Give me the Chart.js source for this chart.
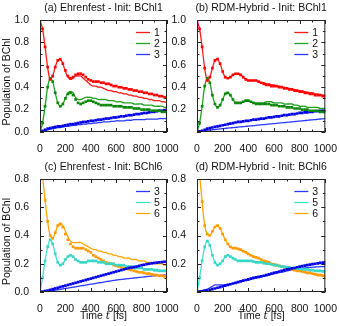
<!DOCTYPE html>
<html>
<head>
<meta charset="utf-8">
<script src="https://cdn.jsdelivr.net/npm/chart.js@4/dist/chart.umd.min.js"></script>
<style>
  html, body { margin:0; padding:0; background:#fff; }
  #wrap { position:relative; width:340px; height:326px; overflow:hidden; }
  #wrap canvas { position:absolute; }
</style>
</head>
<body>
<div id="wrap">
  <canvas id="pa" width="190" height="160" style="left:0;top:0"></canvas>
  <canvas id="pb" width="170" height="160" style="left:170px;top:0"></canvas>
  <canvas id="pc" width="190" height="166" style="left:0;top:160px"></canvas>
  <canvas id="pd" width="170" height="166" style="left:170px;top:160px"></canvas>
</div>
<script>
// time grid, fs
const T = Array.from({length:51}, (_, i) => i * 20);
const xTicks = [0, 200, 400, 600, 800, 1000];

// (a) Ehrenfest - Init: BChl1  (line = solid, dots = reference)
const aRedLine  = [1.00,0.92,0.76,0.58,0.47,0.50,0.58,0.64,0.65,0.61,0.54,0.49,0.47,0.48,0.50,0.50,0.50,0.48,0.46,0.44,0.42,0.41,0.41,0.40,0.40,0.39,0.38,0.37,0.37,0.36,0.36,0.35,0.35,0.34,0.34,0.33,0.33,0.32,0.32,0.31,0.31,0.30,0.30,0.29,0.29,0.28,0.28,0.28,0.27,0.27,0.26];
const aRedDots  = [1.00,0.92,0.76,0.58,0.47,0.50,0.58,0.64,0.65,0.61,0.55,0.50,0.48,0.49,0.51,0.52,0.52,0.51,0.49,0.47,0.46,0.45,0.45,0.45,0.44,0.44,0.43,0.43,0.42,0.41,0.41,0.40,0.40,0.39,0.39,0.38,0.38,0.37,0.37,0.36,0.36,0.35,0.35,0.34,0.34,0.33,0.33,0.32,0.32,0.31,0.31];
const aGrnLine  = [0.00,0.08,0.23,0.40,0.48,0.45,0.35,0.26,0.23,0.25,0.30,0.35,0.36,0.35,0.31,0.29,0.29,0.30,0.31,0.31,0.31,0.30,0.30,0.29,0.29,0.29,0.29,0.28,0.28,0.28,0.27,0.27,0.27,0.26,0.26,0.26,0.26,0.25,0.25,0.25,0.25,0.24,0.24,0.24,0.24,0.23,0.23,0.23,0.23,0.22,0.22];
const aGrnDots  = [0.00,0.08,0.23,0.40,0.48,0.45,0.35,0.26,0.23,0.25,0.30,0.34,0.35,0.33,0.29,0.26,0.25,0.26,0.27,0.28,0.28,0.27,0.26,0.25,0.24,0.24,0.24,0.24,0.24,0.23,0.23,0.23,0.23,0.22,0.22,0.22,0.22,0.21,0.21,0.21,0.20,0.20,0.20,0.20,0.19,0.19,0.19,0.19,0.18,0.18,0.18];
const aBluLine  = [0.000,0.005,0.010,0.020,0.025,0.030,0.035,0.040,0.040,0.045,0.050,0.050,0.055,0.060,0.060,0.065,0.065,0.070,0.070,0.075,0.075,0.080,0.080,0.085,0.085,0.090,0.090,0.090,0.095,0.095,0.100,0.100,0.100,0.100,0.105,0.105,0.105,0.110,0.110,0.110,0.110,0.110,0.115,0.115,0.115,0.115,0.115,0.120,0.120,0.120,0.120];
const aBluDots  = [0.000,0.010,0.020,0.030,0.035,0.040,0.045,0.050,0.050,0.055,0.060,0.065,0.070,0.070,0.075,0.080,0.085,0.090,0.090,0.095,0.100,0.100,0.105,0.110,0.110,0.115,0.120,0.120,0.125,0.130,0.130,0.135,0.140,0.140,0.145,0.150,0.150,0.155,0.160,0.160,0.165,0.170,0.170,0.175,0.180,0.180,0.185,0.190,0.190,0.195,0.200];

// (b) RDM-Hybrid - Init: BChl1
const bRedLine  = [1.00,0.92,0.76,0.57,0.46,0.49,0.57,0.64,0.65,0.61,0.54,0.49,0.48,0.49,0.51,0.52,0.52,0.51,0.49,0.47,0.46,0.46,0.46,0.46,0.45,0.44,0.44,0.43,0.43,0.42,0.42,0.41,0.41,0.40,0.40,0.39,0.39,0.38,0.38,0.37,0.37,0.36,0.36,0.35,0.35,0.35,0.34,0.34,0.33,0.33,0.33];
const bRedDots  = [1.00,0.92,0.76,0.57,0.46,0.49,0.57,0.64,0.65,0.61,0.54,0.49,0.48,0.49,0.51,0.52,0.52,0.51,0.49,0.47,0.46,0.46,0.46,0.46,0.45,0.44,0.43,0.42,0.42,0.41,0.41,0.41,0.40,0.40,0.39,0.39,0.38,0.38,0.37,0.37,0.36,0.36,0.35,0.35,0.34,0.34,0.33,0.33,0.33,0.32,0.32];
const bGrnLine  = [0.00,0.08,0.23,0.41,0.48,0.44,0.33,0.25,0.22,0.24,0.29,0.34,0.35,0.33,0.29,0.26,0.26,0.26,0.27,0.28,0.28,0.27,0.26,0.26,0.26,0.26,0.26,0.27,0.27,0.27,0.26,0.26,0.26,0.26,0.25,0.25,0.25,0.25,0.24,0.24,0.23,0.23,0.23,0.22,0.22,0.22,0.22,0.22,0.21,0.21,0.21];
const bGrnDots  = [0.00,0.08,0.23,0.41,0.48,0.44,0.33,0.25,0.22,0.24,0.29,0.34,0.35,0.33,0.29,0.26,0.26,0.26,0.27,0.28,0.28,0.27,0.26,0.25,0.25,0.25,0.25,0.25,0.25,0.24,0.24,0.24,0.23,0.23,0.23,0.22,0.22,0.22,0.21,0.21,0.21,0.20,0.20,0.20,0.19,0.19,0.19,0.19,0.18,0.18,0.18];
const bBluLine  = [0.000,0.003,0.008,0.012,0.015,0.018,0.020,0.022,0.025,0.027,0.030,0.032,0.035,0.037,0.039,0.041,0.044,0.046,0.048,0.050,0.053,0.055,0.057,0.059,0.062,0.064,0.066,0.068,0.071,0.073,0.075,0.077,0.080,0.082,0.084,0.086,0.089,0.091,0.093,0.095,0.098,0.100,0.102,0.104,0.107,0.109,0.111,0.113,0.116,0.118,0.120];
const bBluDots  = [0.000,0.005,0.010,0.020,0.030,0.035,0.040,0.045,0.050,0.055,0.060,0.065,0.070,0.075,0.080,0.085,0.090,0.090,0.095,0.100,0.100,0.105,0.110,0.110,0.115,0.120,0.120,0.125,0.130,0.130,0.135,0.140,0.140,0.145,0.150,0.150,0.155,0.160,0.160,0.165,0.170,0.170,0.175,0.175,0.180,0.180,0.185,0.185,0.190,0.190,0.190];

// (c) Ehrenfest - Init: BChl6
const cBluLine  = [0.000,0.002,0.004,0.006,0.008,0.010,0.013,0.016,0.019,0.022,0.025,0.028,0.031,0.034,0.037,0.040,0.043,0.046,0.049,0.052,0.055,0.058,0.061,0.064,0.067,0.070,0.073,0.076,0.079,0.082,0.085,0.087,0.089,0.091,0.093,0.095,0.097,0.099,0.101,0.103,0.105,0.107,0.109,0.111,0.113,0.115,0.116,0.117,0.118,0.119,0.120];
const cBluDots  = [0.000,0.003,0.007,0.010,0.015,0.020,0.025,0.030,0.035,0.040,0.045,0.050,0.055,0.060,0.065,0.070,0.075,0.080,0.085,0.090,0.095,0.100,0.105,0.110,0.115,0.120,0.125,0.130,0.135,0.140,0.145,0.150,0.155,0.160,0.165,0.170,0.173,0.177,0.180,0.185,0.190,0.193,0.197,0.200,0.203,0.206,0.208,0.210,0.212,0.214,0.215];
const cCynLine  = [0.00,0.10,0.22,0.32,0.37,0.34,0.27,0.21,0.19,0.20,0.23,0.25,0.26,0.25,0.23,0.22,0.21,0.21,0.21,0.22,0.22,0.22,0.22,0.21,0.21,0.21,0.20,0.20,0.20,0.20,0.19,0.19,0.19,0.19,0.18,0.18,0.18,0.17,0.17,0.17,0.17,0.16,0.16,0.16,0.16,0.15,0.15,0.15,0.15,0.15,0.15];
const cCynDots  = [0.00,0.10,0.22,0.32,0.37,0.34,0.27,0.21,0.19,0.20,0.23,0.25,0.26,0.25,0.23,0.22,0.21,0.21,0.21,0.22,0.22,0.22,0.22,0.21,0.21,0.21,0.20,0.20,0.20,0.20,0.19,0.19,0.19,0.19,0.18,0.18,0.18,0.17,0.17,0.17,0.17,0.16,0.16,0.16,0.16,0.155,0.155,0.15,0.15,0.15,0.15];
const cOrgLine  = [1.00,0.82,0.65,0.50,0.40,0.38,0.42,0.47,0.49,0.47,0.43,0.39,0.36,0.35,0.35,0.35,0.35,0.34,0.33,0.32,0.31,0.30,0.30,0.29,0.29,0.28,0.28,0.27,0.27,0.26,0.26,0.25,0.25,0.24,0.24,0.24,0.23,0.23,0.23,0.22,0.22,0.22,0.21,0.21,0.21,0.20,0.20,0.20,0.20,0.19,0.19];
const cOrgDots  = [1.00,0.82,0.65,0.50,0.40,0.38,0.42,0.47,0.48,0.46,0.41,0.37,0.34,0.32,0.31,0.31,0.31,0.31,0.30,0.29,0.28,0.26,0.25,0.24,0.23,0.22,0.21,0.205,0.20,0.19,0.185,0.18,0.175,0.17,0.165,0.16,0.155,0.15,0.145,0.14,0.14,0.135,0.13,0.13,0.125,0.12,0.12,0.115,0.115,0.11,0.11];

// (d) RDM-Hybrid - Init: BChl6
const dBluLine  = [0.000,0.005,0.010,0.015,0.020,0.030,0.040,0.050,0.050,0.050,0.050,0.050,0.050,0.055,0.060,0.065,0.070,0.075,0.080,0.085,0.085,0.090,0.095,0.100,0.105,0.110,0.113,0.117,0.120,0.125,0.130,0.133,0.137,0.140,0.145,0.150,0.153,0.156,0.160,0.163,0.166,0.168,0.170,0.172,0.174,0.176,0.177,0.178,0.179,0.180,0.180];
const dBluDots  = [0.000,0.003,0.005,0.008,0.010,0.015,0.020,0.025,0.030,0.035,0.040,0.045,0.050,0.055,0.060,0.065,0.070,0.075,0.080,0.085,0.090,0.095,0.100,0.103,0.107,0.110,0.115,0.120,0.125,0.130,0.135,0.140,0.145,0.150,0.155,0.160,0.163,0.167,0.170,0.175,0.180,0.183,0.187,0.190,0.194,0.197,0.200,0.203,0.206,0.208,0.210];
const dCynLine  = [0.00,0.10,0.22,0.32,0.36,0.33,0.26,0.21,0.19,0.20,0.22,0.25,0.26,0.25,0.24,0.23,0.22,0.22,0.22,0.22,0.22,0.22,0.215,0.21,0.21,0.21,0.205,0.20,0.20,0.195,0.19,0.19,0.185,0.18,0.18,0.175,0.175,0.17,0.17,0.165,0.165,0.16,0.16,0.16,0.155,0.155,0.15,0.15,0.15,0.15,0.15];
const dCynDots  = [0.00,0.10,0.22,0.32,0.36,0.33,0.26,0.21,0.19,0.20,0.22,0.25,0.26,0.25,0.24,0.23,0.22,0.22,0.22,0.22,0.22,0.22,0.215,0.21,0.21,0.21,0.205,0.20,0.20,0.195,0.19,0.19,0.185,0.18,0.18,0.175,0.175,0.17,0.17,0.165,0.165,0.16,0.16,0.16,0.155,0.155,0.15,0.15,0.15,0.145,0.145];
const dOrgLine  = [1.00,0.83,0.64,0.47,0.41,0.40,0.43,0.46,0.47,0.45,0.41,0.37,0.34,0.32,0.31,0.31,0.305,0.30,0.29,0.28,0.27,0.26,0.25,0.245,0.24,0.23,0.22,0.215,0.21,0.20,0.195,0.19,0.185,0.18,0.175,0.17,0.165,0.16,0.155,0.15,0.15,0.145,0.14,0.14,0.135,0.13,0.13,0.125,0.125,0.12,0.12];
const dOrgDots  = [1.00,0.83,0.64,0.47,0.41,0.40,0.43,0.46,0.47,0.45,0.41,0.37,0.34,0.32,0.31,0.31,0.305,0.30,0.29,0.28,0.27,0.26,0.25,0.245,0.24,0.23,0.22,0.215,0.21,0.20,0.195,0.19,0.185,0.18,0.175,0.17,0.165,0.16,0.155,0.15,0.15,0.145,0.14,0.135,0.135,0.13,0.125,0.12,0.12,0.115,0.11];

const COL = {
  red:   { line:'#ff1a1a', dot:'#ff0000' },
  green: { line:'#22a022', dot:'#0a870a' },
  blue:  { line:'#2a3aff', dot:'#0000e6' },
  cyan:  { line:'#40e0d0', dot:'#36d6c6' },
  orange:{ line:'#ffa500', dot:'#ff9a00' },
};
const FONT = '"Liberation Sans", Arial, sans-serif';
const TXT = '#111';

const pts = arr => T.map((t, i) => ({ x: t, y: arr[i] }));

function lineDs(label, arr, c) {
  return { label, data: pts(arr), borderColor: c.line, backgroundColor: c.line,
    borderWidth: 1.3, pointRadius: 0, tension: 0.35, legend: true };
}
function dotDs(arr, c) {
  return { label: '', data: pts(arr), showLine: false, borderWidth: 0,
    pointRadius: 1.9, pointStyle: 'rect', pointBackgroundColor: c.dot, pointBorderWidth: 0 };
}

// frame, inward ticks, title, axis labels, legend
const decor = {
  id: 'decor',
  afterDraw(chart, args, o) {
    const { ctx, chartArea: a, scales } = chart;
    const x = scales.x, y = scales.y;
    ctx.save();
    ctx.strokeStyle = '#222';
    ctx.lineWidth = 1;
    ctx.strokeRect(a.left + 0.5, a.top + 0.5, a.right - a.left - 1, a.bottom - a.top - 1);
    ctx.beginPath();
    for (let v = 0; v <= 1000; v += 100) {
      const px = Math.round(x.getPixelForValue(v)) + 0.5;
      const len = v % 200 === 0 ? 4 : 2.5;
      ctx.moveTo(px, a.bottom); ctx.lineTo(px, a.bottom - len);
      ctx.moveTo(px, a.top); ctx.lineTo(px, a.top + len);
    }
    for (let k = 0; k <= Math.round(y.max * 10); k++) {
      const py = Math.round(y.getPixelForValue(k / 10)) + 0.5;
      const len = k % 2 === 0 ? 4 : 2.5;
      ctx.moveTo(a.left, py); ctx.lineTo(a.left + len, py);
      ctx.moveTo(a.right, py); ctx.lineTo(a.right - len, py);
    }
    ctx.stroke();

    ctx.fillStyle = TXT;
    ctx.font = '10.5px ' + FONT;
    ctx.textAlign = 'center';
    ctx.textBaseline = 'middle';
    ctx.fillText(o.title, (a.left + a.right) / 2, a.top - 12);

    if (o.ylabel) {
      ctx.save();
      ctx.translate(7, (a.top + a.bottom) / 2 + 6);
      ctx.rotate(-Math.PI / 2);
      ctx.fillText('Population of BChl', 0, 0);
      ctx.restore();
    }
    if (o.xlabel) {
      const cx = (a.left + a.right) / 2, cy = a.bottom + 24;
      const p1 = 'Time ', p2 = 't', p3 = ' [fs]';
      const f1 = '10.5px ' + FONT, f2 = 'italic 10.5px "DejaVu Serif", serif';
      ctx.font = f1; const w1 = ctx.measureText(p1).width, w3 = ctx.measureText(p3).width;
      ctx.font = f2; const w2 = ctx.measureText(p2).width;
      let sx = cx - (w1 + w2 + w3) / 2;
      ctx.textAlign = 'left';
      ctx.font = f1; ctx.fillText(p1, sx, cy); sx += w1;
      ctx.font = f2; ctx.fillText(p2, sx, cy); sx += w2;
      ctx.font = f1; ctx.fillText(p3, sx, cy);
    }

    // legend
    ctx.font = '10.5px ' + FONT;
    ctx.textAlign = 'left';
    let row = 0;
    chart.data.datasets.forEach(ds => {
      if (!ds.legend) return;
      const ly = a.top + 12 + row * 11;
      ctx.strokeStyle = ds.borderColor;
      ctx.lineWidth = 1.3;
      ctx.beginPath();
      ctx.moveTo(a.right - 31, ly + 0.5); ctx.lineTo(a.right - 17, ly + 0.5);
      ctx.stroke();
      ctx.fillStyle = TXT;
      ctx.fillText(ds.label, a.right - 13, ly + 1);
      row++;
    });
    ctx.restore();
  }
};

function makePanel(id, cfg) {
  new Chart(document.getElementById(id), {
    type: 'line',
    data: { datasets: cfg.datasets },
    options: {
      responsive: false, animation: false, events: [],
      layout: { padding: cfg.pad },
      plugins: { legend: { display: false }, tooltip: { enabled: false },
        decor: { title: cfg.title, ylabel: cfg.ylabel, xlabel: cfg.xlabel } },
      scales: {
        x: { type: 'linear', min: 0, max: 1000,
          afterBuildTicks: s => { s.ticks = xTicks.map(v => ({ value: v })); },
          afterFit: s => { s.height = cfg.xh; },
          grid: { display: false }, border: { display: false },
          ticks: { color: TXT, font: { family: FONT, size: 10.5 }, padding: 3, maxRotation: 0, autoSkip: false,
            callback: v => String(v) } },
        y: { min: 0, max: cfg.ymax,
          ticks: { stepSize: 0.2, color: TXT, font: { family: FONT, size: 10.5 }, padding: 3,
            callback: v => (cfg.hideZero && v === 0) ? '' : v.toFixed(1) },
          afterFit: s => { s.width = cfg.yw; },
          grid: { display: false }, border: { display: false } }
      }
    },
    plugins: [decor]
  });
}

makePanel('pa', {
  title: '(a) Ehrenfest - Init: BChl1', ylabel: true, xlabel: false, ymax: 1.0, hideZero: false,
  pad: { left: 0, top: 20, right: 23, bottom: 0 }, yw: 40, xh: 28,
  datasets: [dotDs(aRedDots, COL.red), dotDs(aGrnDots, COL.green), dotDs(aBluDots, COL.blue),
    lineDs('1', aRedLine, COL.red), lineDs('2', aGrnLine, COL.green), lineDs('3', aBluLine, COL.blue)]
});
makePanel('pb', {
  title: '(b) RDM-Hybrid - Init: BChl1', ylabel: false, xlabel: false, ymax: 1.0, hideZero: true,
  pad: { left: 0, top: 20, right: 13, bottom: 0 }, yw: 27, xh: 28,
  datasets: [dotDs(bRedDots, COL.red), dotDs(bGrnDots, COL.green), dotDs(bBluDots, COL.blue),
    lineDs('1', bRedLine, COL.red), lineDs('2', bGrnLine, COL.green), lineDs('3', bBluLine, COL.blue)]
});
makePanel('pc', {
  title: '(c) Ehrenfest - Init: BChl6', ylabel: true, xlabel: true, ymax: 0.8, hideZero: false,
  pad: { left: 0, top: 19, right: 23, bottom: 0 }, yw: 40, xh: 34,
  datasets: [dotDs(cBluDots, COL.blue), dotDs(cCynDots, COL.cyan), dotDs(cOrgDots, COL.orange),
    lineDs('3', cBluLine, COL.blue), lineDs('5', cCynLine, COL.cyan), lineDs('6', cOrgLine, COL.orange)]
});
makePanel('pd', {
  title: '(d) RDM-Hybrid - Init: BChl6', ylabel: false, xlabel: true, ymax: 0.8, hideZero: true,
  pad: { left: 0, top: 19, right: 13, bottom: 0 }, yw: 27, xh: 34,
  datasets: [dotDs(dBluDots, COL.blue), dotDs(dCynDots, COL.cyan), dotDs(dOrgDots, COL.orange),
    lineDs('3', dBluLine, COL.blue), lineDs('5', dCynLine, COL.cyan), lineDs('6', dOrgLine, COL.orange)]
});
</script>
</body>
</html>
